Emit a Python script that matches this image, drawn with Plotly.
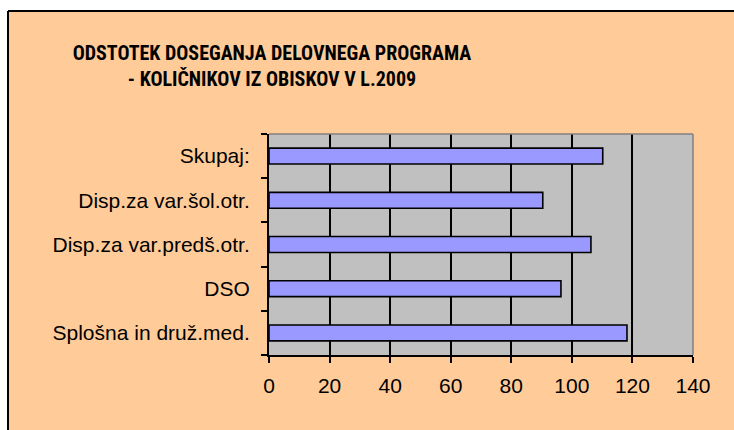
import plotly.graph_objects as go

categories = ["Splošna in druž.med.", "DSO", "Disp.za var.predš.otr.", "Disp.za var.šol.otr.", "Skupaj:"]
values = [118.2, 96.4, 106.3, 90.4, 110.2]
x_ticks = [0, 20, 40, 60, 80, 100, 120, 140]
title_lines = ["ODSTOTEK DOSEGANJA DELOVNEGA PROGRAMA", "- KOLIČNIKOV IZ OBISKOV V L.2009"]

W, H = 734, 430
L, R, T, B = 269, 41, 134, 75
pw, ph = W - L - R, H - T - B

def px_x(p):
    return (p - L) / pw

def px_y(p):
    return (H - B - p) / ph

fig = go.Figure(go.Bar(
    y=categories, x=values, orientation="h",
    marker=dict(color="#9999FF", line=dict(color="#000000", width=1.6)),
    width=0.36,
))

fig.update_layout(
    width=W, height=H,
    margin=dict(l=L, r=R, t=T, b=B, pad=0),
    paper_bgcolor="#FFCC99",
    plot_bgcolor="#C0C0C0",
    showlegend=False,
    font=dict(family="Arial, Liberation Sans, sans-serif", size=21, color="#000000"),
    title=dict(
        text="<br>".join(title_lines),
        x=272 / W, xref="container", xanchor="center",
        y=1 - 60 / H, yref="container", yanchor="top",
        font=dict(family="Roboto Condensed, Open Sans Condensed, Liberation Sans, sans-serif",
                  size=20, color="#000000", weight="bold"),
    ),
    shapes=[
        # white page outside the chart area (top strip and left strip)
        dict(type="rect", xref="paper", yref="paper",
             x0=px_x(-5), x1=px_x(W + 5), y0=px_y(11), y1=px_y(-5),
             fillcolor="#FFFFFF", line=dict(width=0), layer="below"),
        dict(type="rect", xref="paper", yref="paper",
             x0=px_x(-5), x1=px_x(8), y0=px_y(H + 5), y1=px_y(-5),
             fillcolor="#FFFFFF", line=dict(width=0), layer="below"),
        # chart area border
        dict(type="line", xref="paper", yref="paper",
             x0=px_x(8), x1=px_x(W + 5), y0=px_y(11), y1=px_y(11),
             line=dict(color="#000000", width=2), layer="below"),
        dict(type="line", xref="paper", yref="paper",
             x0=px_x(8), x1=px_x(8), y0=px_y(11), y1=px_y(H + 5),
             line=dict(color="#000000", width=2), layer="below"),
        # plot area frame (grey top and right)
        dict(type="line", xref="paper", yref="paper", x0=0, x1=1, y0=1, y1=1,
             line=dict(color="#808080", width=1.5), layer="above"),
        dict(type="line", xref="paper", yref="paper", x0=1, x1=1, y0=0, y1=1,
             line=dict(color="#808080", width=1.5), layer="above"),
    ],
)

fig.update_xaxes(
    range=[0, 140], tickvals=x_ticks, ticktext=[str(v) for v in x_ticks],
    showgrid=True, gridcolor="#000000", gridwidth=2,
    showline=True, linecolor="#000000", linewidth=2,
    ticks="outside", ticklen=6, tickcolor="#000000", tickwidth=2,
    zeroline=False, ticklabelstandoff=5,
    tickfont=dict(size=21),
)
fig.update_yaxes(
    categoryorder="array", categoryarray=categories,
    showgrid=False,
    showline=True, linecolor="#000000", linewidth=2,
    ticks="outside", ticklen=6, tickcolor="#000000", tickwidth=2,
    tickson="boundaries", ticklabelstandoff=13,
    tickfont=dict(size=21),
)

fig.write_html("out.html", config={"displayModeBar": False},
               post_script="document.body.style.margin='0';document.body.style.overflow='hidden';")
